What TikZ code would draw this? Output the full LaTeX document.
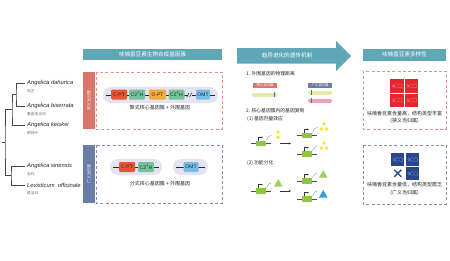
\documentclass[tikz,border=0pt]{standalone}
\usepackage{fontspec}
\setmainfont{Liberation Sans}
\newfontfamily\cjk{Noto Sans CJK SC}
\usetikzlibrary{arrows.meta}
\definecolor{teal}{HTML}{5FA7B7}
\definecolor{redband}{HTML}{D9756B}
\definecolor{reddash}{HTML}{E3918A}
\definecolor{blueband}{HTML}{6A7DA6}
\definecolor{bluedash}{HTML}{8090B5}
\definecolor{pillc}{HTML}{E3E3F1}
\definecolor{cptc}{HTML}{E9552F}
\definecolor{c2hc}{HTML}{74C39B}
\definecolor{optc}{HTML}{F6A93B}
\definecolor{omtc}{HTML}{78BCE8}
\definecolor{chromy}{HTML}{E6EAA6}
\definecolor{chromp}{HTML}{EBA3BA}
\definecolor{ggreen}{HTML}{8DC63F}
\definecolor{dotc}{HTML}{F2E632}
\definecolor{trig}{HTML}{A3CF5B}
\definecolor{trib}{HTML}{3A9BD8}
\definecolor{bigred}{HTML}{E5262D}
\definecolor{navy}{HTML}{27468F}
\definecolor{treec}{HTML}{444444}
\tikzset{
  hdr/.style={fill=teal, text=white, inner sep=0pt, font=\cjk\fontsize{5.6}{6.5}\selectfont},
  taxon/.style={anchor=west, inner sep=0pt, font=\fontsize{5.8}{7}\selectfont\itshape, text=black!85},
  cname/.style={anchor=west, inner sep=0pt, font=\cjk\fontsize{3.7}{4.2}\selectfont, text=black!60},
  band/.style={inner sep=0pt, minimum width=12pt, text=white, font=\cjk\fontsize{3.8}{4.5}\selectfont},
  gene/.style={rounded corners=1.2pt, minimum height=10pt, inner sep=0pt, font=\fontsize{5}{6}\selectfont, text=black!85},
  captxt/.style={inner sep=0pt, font=\cjk\fontsize{5}{6}\selectfont, text=black!85},
  stepl/.style={anchor=west, inner sep=0pt, font=\cjk\fontsize{4.8}{5.5}\selectfont, text=black!85},
  tagbox/.style={inner sep=0pt, minimum width=24pt, minimum height=5pt, text=white, font=\cjk\fontsize{3.4}{4}\selectfont},
  tree/.style={draw=treec, line width=0.6pt},
  thinarrow/.style={draw=black!80, line width=0.5pt, -{Stealth[length=2.2pt,width=2pt]}},
  geneic/.pic={
    \draw[line width=0.45pt, black!70] (-10,0) -- (10,0);
    \fill[ggreen] (-5,-2.6) rectangle (5,2.6);
    \draw[line width=0.45pt, black!80, -{Stealth[length=1.4pt,width=1.5pt]}] (-3,-2.6) -- (-3,-6.3) -- (1.8,-6.3);
    \draw[line width=0.35pt, black!45] (5.6,-3) .. controls (6.6,-6.5) and (8.5,-8) .. (10.5,-8.3);
  },
  mol/.pic={
    \draw[white, opacity=0.35, line width=0.25pt]
      (30:2.1) -- (90:2.1) -- (150:2.1) -- (210:2.1) -- (270:2.1) -- (330:2.1) -- cycle
      ([xshift=3.64pt]150:2.1) -- ([xshift=3.64pt]90:2.1) -- ([xshift=3.64pt]30:2.1) -- ([xshift=3.64pt]330:2.1) -- ([xshift=3.64pt]270:2.1) -- ([xshift=3.64pt]210:2.1)
      (150:2.1) -- (-3.6,-1.6) -- (-4.2,0.4) -- (-2.9,1.7) -- (210:2.1)
      ([xshift=3.64pt]330:2.1) -- (5.3,2.4);
  }
}
\begin{document}
\begin{tikzpicture}[x=1pt,y=-1pt]
\useasboundingbox[fill=white] (0,0) rectangle (450,260);

% ---------- tree ----------
\node[taxon] (t1) at (27,83) {Angelica dahurica};
\node[cname] (c1) at (27,91.5) {白芷};
\node[taxon] (t2) at (27,106) {Angelica biserrata};
\node[cname] (c2) at (27,114.5) {重齿毛当归};
\node[taxon] (t3) at (27,125) {Angelica keiskei};
\node[cname] (c3) at (27,133.5) {明日叶};
\node[taxon] (t4) at (27,166) {Angelica sinensis};
\node[cname] (c4) at (27,174.5) {当归};
\node[taxon] (t5) at (27,185) {Levisticum\ \ officinale};
\node[cname] (c5) at (27,193.5) {欧当归};
\coordinate (n12) at (16,94.5);
\coordinate (n123) at (12,109.75);
\coordinate (n45) at (11,175.5);
\coordinate (root) at (5,142.6);
\coordinate (rstub) at (2,142.6);
\draw[tree] ([xshift=-2pt]t1.west) -| (n12) |- ([xshift=-2pt]t2.west);
\draw[tree] (n12) -| (n123) |- ([xshift=-2pt]t3.west);
\draw[tree] ([xshift=-2pt]t4.west) -| (n45) |- ([xshift=-2pt]t5.west);
\draw[tree] (n123) -| (root) |- (n45);
\draw[tree] (root) -- (rstub);

% ---------- column 1 ----------
\node[hdr, minimum width=139pt, minimum height=11.5pt] (h1) at (152.5,54.5) {呋喃香豆素生物合成基因簇};

\node[band, fill=redband, minimum height=57pt] (rb) at (89,100.5) {\rotatebox{90}{狭义当归属}};
\draw[reddash, line width=0.8pt, dash pattern=on 3pt off 2.2pt] (96,72) rectangle (222,129);
\fill[pillc, rounded corners=8pt] (103,87) rectangle (218,103);
\coordinate (rpl) at (106,95);
\coordinate (rpr) at (215,95);
\draw[line width=0.5pt, black!85] (rpl) -- (rpr);
\node[gene, fill=cptc, minimum width=16pt] (g1) at (119,94.5) {C-PT};
\node[gene, fill=c2hc, minimum width=16pt] (g2) at (137,94.5) {C2$'$H};
\node[gene, fill=optc, minimum width=17pt] (g3) at (157.5,94.5) {O-PT};
\node[gene, fill=c2hc, minimum width=16pt] (g4) at (176.5,94.5) {C2$'$H};
\node[gene, fill=omtc, minimum width=14pt] (g5) at (203,94.5) {OMT};
\fill[pillc] (188,93) rectangle (192,97);
\draw[line width=0.5pt, black!85] (186.8,97.2) -- (189,92.8) (189.6,97.2) -- (191.8,92.8);
\node[captxt] (rcap) at (160,108) {聚式核心基因簇 + 外围基因};

\node[band, fill=blueband, minimum height=58pt] (bb) at (89,174) {\rotatebox{90}{广义当归属}};
\draw[bluedash, line width=0.8pt, dash pattern=on 3pt off 2.2pt] (96,145) rectangle (222,203);
\fill[pillc, rounded corners=8pt] (110,159) rectangle (162,175);
\fill[pillc, rounded corners=8pt] (173,159) rectangle (208,175);
\coordinate (bp1l) at (113,167);
\coordinate (bp1r) at (159,167);
\coordinate (bp2l) at (176,167);
\coordinate (bp2r) at (205,167);
\draw[line width=0.5pt, black!85] (bp1l) -- (bp1r);
\draw[line width=0.5pt, black!85] (bp2l) -- (bp2r);
\node[gene, fill=cptc, minimum width=16pt] (b1) at (127,167) {C-PT};
\node[gene, fill=c2hc, minimum width=16pt] (b2) at (146,167) {C2$'$H};
\node[gene, fill=omtc, minimum width=15pt] (b3) at (191,167) {OMT};
\node[captxt] (bcap) at (160,184) {分式核心基因簇 + 外围基因};

% ---------- column 2 ----------
\fill[teal] (237,48) -- (336,48) -- (336,41) -- (351,56) -- (336,71) -- (336,63.5) -- (237,63.5) -- cycle;
\node[inner sep=0pt, text=white, font=\cjk\fontsize{5.6}{6.5}\selectfont] (h2) at (287,55.8) {趋异进化的遗传机制};

\node[stepl] (s1) at (246,74) {1. 外围基因的物理距离};
\node[tagbox, fill=redband] (tr) at (265,85) {狭义当归属};
\node[tagbox, fill=blueband] (tb) at (320,85) {广义当归属};
\draw[draw=chromy, line width=4pt, line cap=round] (254,94.5) -- (275,94.5);
\draw[draw=chromy, line width=4pt, line cap=round] (310,92.5) -- (330,92.5);
\draw[draw=chromp, line width=4pt, line cap=round] (310,100.5) -- (330,100.5);
\draw[trib!80!black, line width=0.9pt] (274,91.8) -- (274,97.2);
\draw[trib!80!black, line width=0.9pt] (311,89.8) -- (311,95.2);
\draw[trib!80!black, line width=0.9pt] (311,97.8) -- (311,103.2);

\node[stepl] (s2) at (246,111) {2. 核心基因簇内的基因复制};
\node[stepl] (s21) at (247,119) {(1) 基因剂量效应};
\pic at (261,143.5) {geneic};
\fill[dotc] (278,132) circle (1.9) (278,137.2) circle (1.9);
\coordinate (a1s) at (280,143.5);
\coordinate (a1e) at (291,143.5);
\draw[thinarrow] (a1s) -- (a1e);
\pic at (307,135.5) {geneic};
\fill[dotc] (324,124) circle (1.9) (321.5,129) circle (1.9) (326.5,129) circle (1.9);
\pic at (307,154) {geneic};
\fill[dotc] (324,143) circle (1.9) (321.5,148) circle (1.9) (326.5,148) circle (1.9);

\node[stepl] (s22) at (247,163) {(2) 功能分化};
\pic at (261,191) {geneic};
\fill[trig] (274,186.5) -- (282.5,186.5) -- (278.25,179) -- cycle;
\coordinate (a2s) at (280,191);
\coordinate (a2e) at (291,191);
\draw[thinarrow] (a2s) -- (a2e);
\pic at (307,181) {geneic};
\fill[trig] (319,177.5) -- (327.5,177.5) -- (323.25,170) -- cycle;
\pic at (307,199) {geneic};
\fill[trib] (319,197.5) -- (327.5,197.5) -- (323.25,190) -- cycle;

% ---------- column 3 ----------
\node[hdr, minimum width=83pt, minimum height=12pt] (h3) at (404.5,54.5) {呋喃香豆素多样性};

\draw[reddash, line width=0.8pt, dash pattern=on 3pt off 2.2pt] (363,71) rectangle (446,129);
\fill[bigred] (390,79) rectangle (403.5,92.5);
\fill[bigred] (404.5,79) rectangle (418,92.5);
\fill[bigred] (390,93.5) rectangle (403.5,107);
\fill[bigred] (404.5,93.5) rectangle (418,107);
\pic at (396.5,85.75) {mol};
\pic at (411,85.75) {mol};
\pic at (396.5,100.25) {mol};
\pic at (411,100.25) {mol};
\node[captxt] (rc1) at (404.5,113.5) {呋喃香豆素含量高，结构类型丰富};
\node[captxt] (rc2) at (404.5,121) {(狭义当归属)};

\draw[bluedash, line width=0.8pt, dash pattern=on 3pt off 2.2pt] (363,145) rectangle (446,204);
\fill[navy] (391,153) rectangle (404,166);
\fill[navy] (406,153) rectangle (419,166);
\fill[navy] (406,167) rectangle (419,180);
\pic at (397.2,159.5) {mol};
\pic at (412.2,159.5) {mol};
\pic at (412.2,173.5) {mol};
\draw[navy, line width=1.3pt] (394.3,169.8) -- (401.3,176.8) (394.3,176.8) -- (401.3,169.8);
\node[captxt] (bc1) at (404.5,184.5) {呋喃香豆素含量低，结构类型匮乏};
\node[captxt] (bc2) at (404.5,193) {(广义当归属)};
\end{tikzpicture}
\end{document}
